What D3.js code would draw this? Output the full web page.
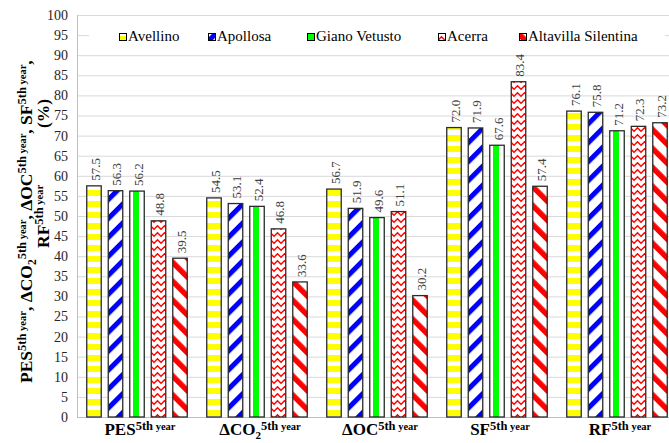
<!DOCTYPE html>
<html>
<head>
<meta charset="utf-8">
<script src="https://cdn.jsdelivr.net/npm/d3@7"></script>
<style>
  body { margin: 0; background: #fff; }
  svg { display: block; }
  text { font-family: "Liberation Serif", "Times New Roman", serif; }
</style>
</head>
<body>
<svg id="chart" width="669" height="443" font-family="Liberation Serif"></svg>
<script>
// categories on the x axis (main text + optional subscript)
const categories = ['PES', 'ΔCO2', 'ΔOC', 'SF', 'RF'];
const categoryMain = ['PES', 'ΔCO', 'ΔOC', 'SF', 'RF'];
const categorySub = ['', '2', '', '', ''];

const seriesNames = ['Avellino', 'Apollosa', 'Giano Vetusto', 'Acerra', 'Altavilla Silentina'];

// values (%)
const avellino = [57.5, 54.5, 56.7, 72.0, 76.1];
const apollosa = [56.3, 53.1, 51.9, 71.9, 75.8];
const gianoVetusto = [56.2, 52.4, 49.6, 67.6, 71.2];
const acerra = [48.8, 46.8, 51.1, 83.4, 72.3];
const altavilla = [39.5, 33.6, 30.2, 57.4, 73.2];

const yTicks = [0, 5, 10, 15, 20, 25, 30, 35, 40, 45, 50, 55, 60, 65, 70, 75, 80, 85, 90, 95, 100];

const seriesValues = [avellino, apollosa, gianoVetusto, acerra, altavilla];
const patternIds = ['pat-yellow', 'pat-blue', 'pat-green', 'pat-zigzag', 'pat-red'];

const FONT = '"Liberation Serif", "Times New Roman", serif';
const svg = d3.select('#chart');
const W = 669, H = 443;
const plot = { left: 77, right: 677, top: 15, bottom: 417 };

// scales
const x0 = d3.scaleBand().domain(categories).range([plot.left, plot.right]).padding(0);
const x1 = d3.scaleBand().domain(seriesNames).range([0, x0.bandwidth()])
  .paddingInner(0.326).paddingOuter(0.453);
const y = d3.scaleLinear().domain([0, 100]).range([plot.bottom, plot.top]);

// patterns
const defs = svg.append('defs');
let p = defs.append('pattern').attr('id', 'pat-yellow').attr('patternUnits', 'userSpaceOnUse')
  .attr('width', 11).attr('height', 11).attr('patternTransform', 'translate(0,3)');
p.append('rect').attr('width', 11).attr('height', 11).attr('fill', '#fff');
p.append('rect').attr('width', 11).attr('height', 6).attr('fill', '#ffff00');

p = defs.append('pattern').attr('id', 'pat-blue').attr('patternUnits', 'userSpaceOnUse')
  .attr('width', 13.4).attr('height', 13.4).attr('patternTransform', 'rotate(45)');
p.append('rect').attr('width', 13.4).attr('height', 13.4).attr('fill', '#fff');
p.append('rect').attr('width', 5).attr('height', 13.4).attr('fill', '#0000ff');

p = defs.append('pattern').attr('id', 'pat-green').attr('patternUnits', 'userSpaceOnUse')
  .attr('width', 11).attr('height', 11).attr('patternTransform', 'translate(1,0)');
p.append('rect').attr('width', 11).attr('height', 11).attr('fill', '#fff');
p.append('rect').attr('width', 6).attr('height', 11).attr('fill', '#00ff00');

p = defs.append('pattern').attr('id', 'pat-zigzag').attr('patternUnits', 'userSpaceOnUse')
  .attr('width', 7).attr('height', 7);
p.append('rect').attr('width', 7).attr('height', 7).attr('fill', '#fff');
p.append('path').attr('d', 'M-0.5,5.8 L3.5,1.8 L7.5,5.8').attr('fill', 'none')
  .attr('stroke', '#ff0000').attr('stroke-width', 1.5);

p = defs.append('pattern').attr('id', 'pat-red').attr('patternUnits', 'userSpaceOnUse')
  .attr('width', 13.4).attr('height', 13.4).attr('patternTransform', 'rotate(-45)');
p.append('rect').attr('width', 13.4).attr('height', 13.4).attr('fill', '#fff');
p.append('rect').attr('width', 5.5).attr('height', 13.4).attr('fill', '#ff0000');

// gridlines
svg.append('g')
  .selectAll('line')
  .data(yTicks.filter(d => d > 0))
  .join('line')
  .attr('x1', plot.left).attr('x2', W)
  .attr('y1', d => y(d) + 0.5).attr('y2', d => y(d) + 0.5)
  .attr('stroke', '#d9d9d9').attr('stroke-width', 1);

// axes lines
svg.append('line').attr('x1', plot.left + 0.5).attr('x2', plot.left + 0.5)
  .attr('y1', plot.top).attr('y2', plot.bottom).attr('stroke', '#bfbfbf');
svg.append('line').attr('x1', plot.left).attr('x2', W)
  .attr('y1', plot.bottom + 0.5).attr('y2', plot.bottom + 0.5).attr('stroke', '#bfbfbf');

// y axis labels
const yAxis = svg.append('g')
  .attr('transform', `translate(${plot.left},0)`)
  .call(d3.axisLeft(y).tickValues(yTicks).tickSize(0).tickPadding(9))
  .attr('font-family', FONT);
yAxis.select('.domain').remove();
yAxis.selectAll('text').attr('font-size', 14).attr('fill', '#262626');

// bars
const groups = svg.append('g')
  .selectAll('g')
  .data(categories)
  .join('g')
  .attr('transform', d => `translate(${x0(d)},0)`);

const barData = (c, ci) => seriesNames.map((s, si) => ({ cat: c, series: s, si, value: seriesValues[si][ci] }));

groups.selectAll('rect.bar')
  .data((c, ci) => barData(c, ci))
  .join('rect')
  .attr('class', 'bar')
  .attr('x', d => x1(d.series))
  .attr('y', d => y(d.value))
  .attr('width', x1.bandwidth())
  .attr('height', d => y(0) - y(d.value))
  .attr('fill', d => `url(#${patternIds[d.si]})`)
  .attr('stroke', '#2b2b2b')
  .attr('stroke-width', 1.3);

// value labels
groups.selectAll('text.val')
  .data((c, ci) => barData(c, ci))
  .join('text')
  .attr('class', 'val')
  .attr('transform', d => `translate(${x1(d.series) + x1.bandwidth() / 2 + 1},${y(d.value) - 5}) rotate(-90)`)
  .attr('dy', '0.35em')
  .attr('font-family', FONT)
  .attr('font-size', 13)
  .attr('fill', '#404040')
  .text(d => d.value.toFixed(1));

// rich text helper: parts = [{t, size, shift, x}]
function richText(textSel, parts) {
  let cur = 0;
  parts.forEach(pt => {
    const ts = textSel.append('tspan')
      .attr('font-size', pt.size)
      .attr('dy', pt.shift - cur)
      .text(pt.t);
    if (pt.x !== undefined) ts.attr('x', pt.x);
    cur = pt.shift;
  });
}

const supParts = (s1, s2, shift) => [
  { t: '5th', size: s1, shift: shift },
  { t: '\u00a0year', size: s2, shift: shift }
];

// x labels
categories.forEach((c, i) => {
  const t = svg.append('text')
    .attr('x', x0(c) + x0.bandwidth() / 2 + 3)
    .attr('y', 435)
    .attr('text-anchor', 'middle')
    .attr('font-family', FONT)
    .attr('font-weight', 'bold')
    .attr('fill', '#000');
  const parts = [{ t: categoryMain[i], size: 17, shift: 0 }];
  if (categorySub[i]) parts.push({ t: categorySub[i], size: 11, shift: 4 });
  richText(t, parts.concat(supParts(12.5, 10.5, -5)));
});

// y title, two lines (anchored at their lower end)
const title1 = svg.append('text')
  .attr('transform', 'translate(32,383) rotate(-90)')
  .attr('text-anchor', 'start')
  .attr('font-family', FONT)
  .attr('font-weight', 'bold');
richText(title1, [
  { t: 'PES', size: 17.5, shift: 0 }, ...supParts(12.5, 10.5, -6),
  { t: ', ΔCO', size: 17.5, shift: 0 }, { t: '2', size: 11.5, shift: 4 }, ...supParts(12.5, 10.5, -6),
  { t: ', ΔOC', size: 17.5, shift: 0 }, ...supParts(12.5, 10.5, -6),
  { t: ', SF', size: 17.5, shift: 0 }, ...supParts(12.5, 10.5, -6),
  { t: ',', size: 17.5, shift: 0 }
]);
const title2 = svg.append('text')
  .attr('transform', 'translate(49,248) rotate(-90)')
  .attr('text-anchor', 'start')
  .attr('font-family', FONT)
  .attr('font-weight', 'bold');
richText(title2, [
  { t: 'RF', size: 17.5, shift: 0 }, ...supParts(12.5, 10.5, -6),
  { t: '(%)', size: 17.5, shift: 0, x: 120 }
]);

// legend
const legendX = [119, 208, 307, 438, 519];
svg.append('rect').attr('x', 89).attr('y', 22).attr('width', 576).attr('height', 28).attr('fill', '#fff');
const legend = svg.append('g')
  .selectAll('g')
  .data(seriesNames)
  .join('g')
  .attr('transform', (d, i) => `translate(${legendX[i]},0)`);
legend.append('rect')
  .attr('x', 0.5).attr('y', 33.5).attr('width', 7).attr('height', 7)
  .attr('fill', (d, i) => `url(#${patternIds[i]})`)
  .attr('stroke', '#000').attr('stroke-width', 1);
legend.append('text')
  .attr('x', 9).attr('y', 41)
  .attr('font-family', FONT)
  .attr('font-size', 15)
  .attr('fill', '#000')
  .text(d => d);
</script>
</body>
</html>
